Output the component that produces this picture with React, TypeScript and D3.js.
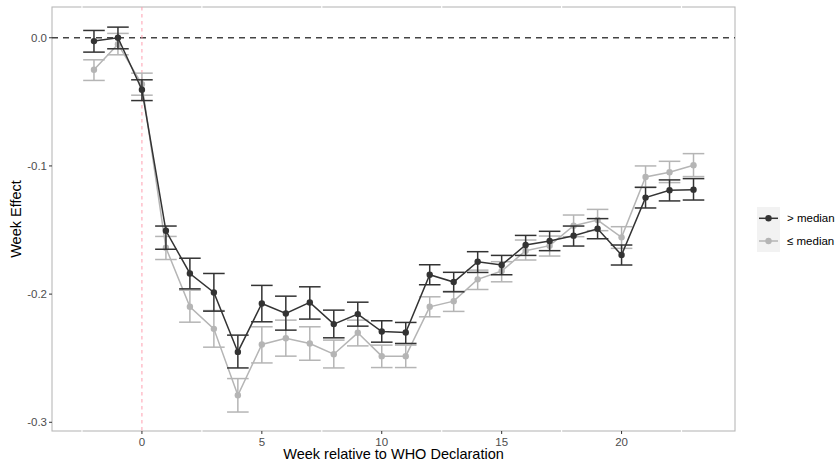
import React from "react";
import * as d3 from "d3";

const weeks = [-2,-1,0,1,2,3,4,5,6,7,8,9,10,11,12,13,14,15,16,17,18,19,20,21,22,23];
const aboveMid = [-0.0026,0.0,-0.0406,-0.1506,-0.1839,-0.1987,-0.2451,-0.2073,-0.2151,-0.2065,-0.2234,-0.2156,-0.2292,-0.2299,-0.1849,-0.1906,-0.1747,-0.1773,-0.1617,-0.1586,-0.1544,-0.149,-0.1695,-0.1247,-0.119,-0.1185];
const aboveLo = [-0.0112,-0.0086,-0.049,-0.165,-0.1959,-0.2133,-0.2576,-0.2216,-0.2281,-0.2195,-0.2341,-0.225,-0.2375,-0.2385,-0.1927,-0.1982,-0.1831,-0.1849,-0.1698,-0.1661,-0.1625,-0.1568,-0.1773,-0.1328,-0.1273,-0.1266];
const aboveHi = [0.0057,0.0083,-0.0328,-0.1469,-0.172,-0.1839,-0.232,-0.1932,-0.2016,-0.1943,-0.2125,-0.2063,-0.2208,-0.2221,-0.1771,-0.183,-0.1669,-0.1698,-0.1542,-0.151,-0.1469,-0.1411,-0.1617,-0.1167,-0.1109,-0.1099];
const belowMid = [-0.025,-0.005,-0.0362,-0.1638,-0.2099,-0.2271,-0.2789,-0.2393,-0.2344,-0.2385,-0.2469,-0.2302,-0.2484,-0.2484,-0.2099,-0.2055,-0.1885,-0.182,-0.1661,-0.1622,-0.1466,-0.1422,-0.1557,-0.1086,-0.1049,-0.0995];
const belowLo = [-0.0333,-0.0133,-0.0448,-0.173,-0.2219,-0.2414,-0.292,-0.2537,-0.2484,-0.2516,-0.2576,-0.2404,-0.2573,-0.2573,-0.2177,-0.2135,-0.1964,-0.1904,-0.1734,-0.1703,-0.1552,-0.1505,-0.1643,-0.1167,-0.113,-0.1083];
const belowHi = [-0.0172,0.0034,-0.0276,-0.155,-0.1969,-0.2128,-0.2659,-0.2255,-0.2203,-0.2255,-0.2359,-0.2203,-0.2398,-0.2398,-0.2021,-0.1978,-0.1813,-0.1747,-0.1578,-0.1547,-0.1383,-0.1339,-0.1474,-0.1,-0.0964,-0.0904];

const xTicks = [0, 5, 10, 15, 20];
const xMinor = [-2.5, 2.5, 7.5, 12.5, 17.5, 22.5];
const yTicks = [0.0, -0.1, -0.2, -0.3];
const seriesLabels = ["> median", "\u2264 median"];
const seriesColors = ["#333333", "#b5b5b5"];

const W = 836, H = 464;
const PL = 52, PR = 735, PT = 7, PB = 431;
const font = "Liberation Sans, Arial, Helvetica, sans-serif";

export default function App() {
  const x = d3.scaleLinear().domain([-3.75, 24.73]).range([PL, PR]);
  const y = d3.scaleLinear().domain([-0.3068, 0.024]).range([PB, PT]);
  const capHalf = x(0.45) - x(0);
  const series = [
    { mid: belowMid, lo: belowLo, hi: belowHi, color: seriesColors[1] },
    { mid: aboveMid, lo: aboveLo, hi: aboveHi, color: seriesColors[0] },
  ];
  const line = d3.line<number>().x((_, i) => x(weeks[i])).y((v) => y(v));

  return (
    <svg width={W} height={H} style={{ position: "absolute", left: 0, top: 0 }} fontFamily={font}>
      <rect x={0} y={0} width={W} height={H} fill="white" />
      <rect x={PL} y={PT} width={PR - PL} height={PB - PT} fill="white" stroke="#b8b8b8" strokeWidth={1.1} />
      {xMinor.map((t) => (
        <g key={"mx" + t}>
          <line x1={x(t)} x2={x(t)} y1={PT - 1} y2={PT + 1} stroke="white" strokeWidth={1.2} />
          <line x1={x(t)} x2={x(t)} y1={PB - 1} y2={PB + 1} stroke="white" strokeWidth={1.2} />
        </g>
      ))}
      {/* reference lines */}
      <line x1={PL} x2={PR} y1={y(0)} y2={y(0)} stroke="#444" strokeWidth={1.3} strokeDasharray="6,5" />
      <line x1={x(0)} x2={x(0)} y1={PT} y2={PB} stroke="#ff9fb0" strokeWidth={1} strokeDasharray="3.5,3.5" />
      {series.map((s, si) => (
        <g key={si}>
          {weeks.map((w, i) => (
            <g key={w} stroke={s.color} strokeWidth={1.5}>
              <line x1={x(w)} x2={x(w)} y1={y(s.lo[i])} y2={y(s.hi[i])} />
              <line x1={x(w) - capHalf} x2={x(w) + capHalf} y1={y(s.lo[i])} y2={y(s.lo[i])} />
              <line x1={x(w) - capHalf} x2={x(w) + capHalf} y1={y(s.hi[i])} y2={y(s.hi[i])} />
            </g>
          ))}
          <path d={line(s.mid) || ""} fill="none" stroke={s.color} strokeWidth={1.5} />
          {weeks.map((w, i) => (
            <circle key={"p" + w} cx={x(w)} cy={y(s.mid[i])} r={3.2} fill={s.color} />
          ))}
        </g>
      ))}
      {/* axes */}
      {xTicks.map((t) => (
        <g key={"xt" + t}>
          <line x1={x(t)} x2={x(t)} y1={PB} y2={PB + 3} stroke="#333" strokeWidth={1} />
          <text x={x(t)} y={PB + 14.5} textAnchor="middle" fontSize={11.5} fill="#4d4d4d">{t}</text>
        </g>
      ))}
      {yTicks.map((t) => (
        <g key={"yt" + t}>
          <line x1={PL - 3} x2={PL} y1={y(t)} y2={y(t)} stroke="#333" strokeWidth={1} />
          <text x={PL - 5} y={y(t) + 4} textAnchor="end" fontSize={11.5} fill="#4d4d4d">{t.toFixed(1)}</text>
        </g>
      ))}
      <text x={(PL + PR) / 2} y={459} textAnchor="middle" fontSize={14.5} fill="black">Week relative to WHO Declaration</text>
      <text transform={`translate(21,${(PT + PB) / 2}) rotate(-90)`} textAnchor="middle" fontSize={14.5} fill="black">Week Effect</text>
      {/* legend */}
      <rect x={757} y={207} width={23} height={45} fill="#f2f2f2" />
      {seriesLabels.map((lab, i) => {
        const cy = 218.3 + i * 22.7;
        return (
          <g key={lab}>
            <line x1={759} x2={778} y1={cy} y2={cy} stroke={seriesColors[i]} strokeWidth={1.5} />
            <circle cx={768.5} cy={cy} r={3.2} fill={seriesColors[i]} />
            <text x={787} y={cy + 4} fontSize={11.5} fill="black">{lab}</text>
          </g>
        );
      })}
    </svg>
  );
}
